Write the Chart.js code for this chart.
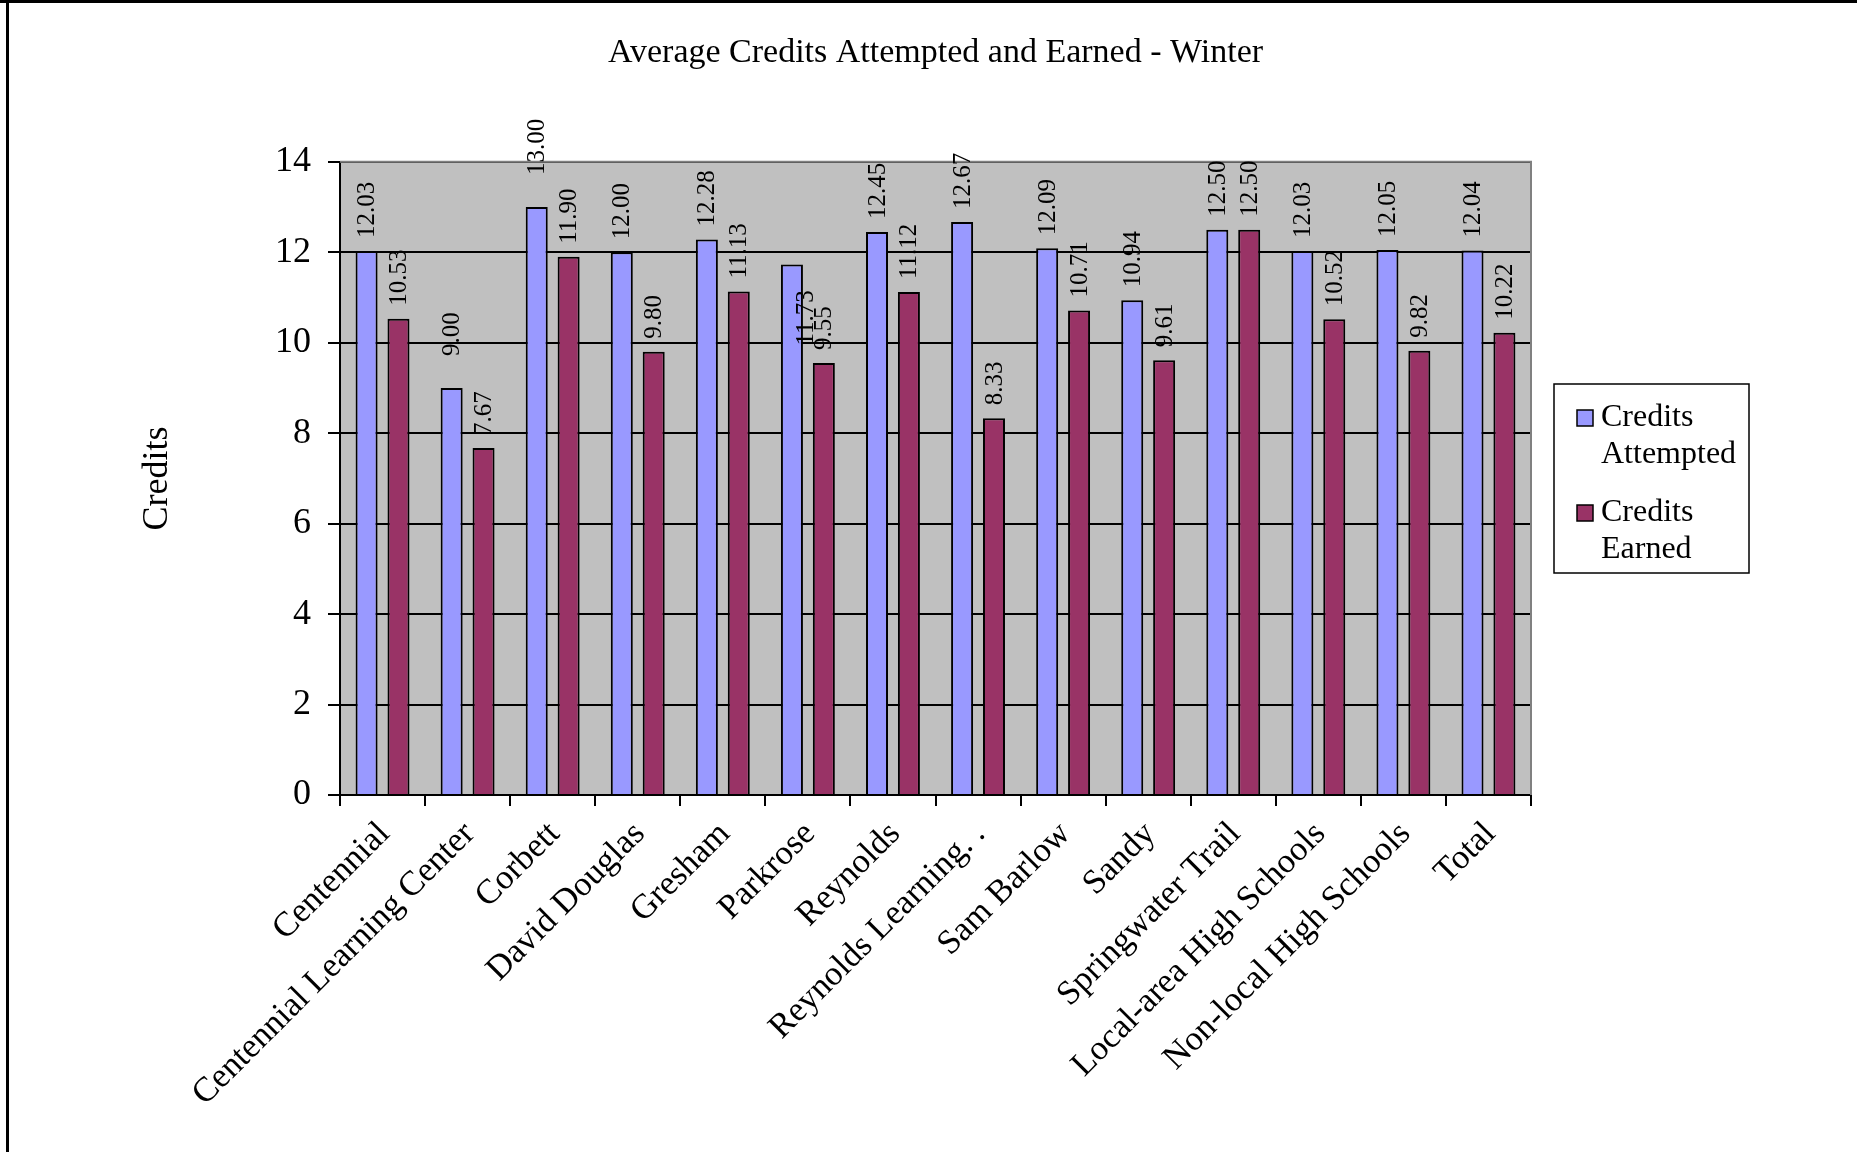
<!DOCTYPE html>
<html>
<head>
<meta charset="utf-8">
<script src="https://cdn.jsdelivr.net/npm/chart.js@4.4.0/dist/chart.umd.min.js"></script>
<style>
  html, body { margin: 0; padding: 0; background: #ffffff; }
  #wrap { width: 1857px; height: 1152px; position: relative; }
</style>
</head>
<body>
<div id="wrap"><canvas id="c" width="1857" height="1152"></canvas></div>
<script>
// ---------- data ----------
const categories = [
  'Centennial', 'Centennial Learning Center', 'Corbett', 'David Douglas', 'Gresham',
  'Parkrose', 'Reynolds', 'Reynolds Learning. .', 'Sam Barlow', 'Sandy',
  'Springwater Trail', 'Local-area High Schools', 'Non-local High Schools', 'Total'
];
const creditsAttempted = [12.03, 9.00, 13.00, 12.00, 12.28, 11.73, 12.45, 12.67, 12.09, 10.94, 12.50, 12.03, 12.05, 12.04];
const creditsEarned    = [10.53, 7.67, 11.90, 9.80, 11.13, 9.55, 11.12, 8.33, 10.71, 9.61, 12.50, 10.52, 9.82, 10.22];
const seriesNames = ['Credits Attempted', 'Credits Earned'];
const yTickValues = [0, 2, 4, 6, 8, 10, 12, 14];
const chartTitle = 'Average Credits Attempted and Earned - Winter';
const yAxisTitle = 'Credits';

// ---------- styling ----------
const FONT = "'Liberation Serif', 'Times New Roman', serif";
const COLORS = ['#9999FF', '#993366'];

// label nudges seen in the original rendering (dataset-index : [dx, dy])
const labelNudge = { '0-1': [0, -19], '0-2': [0, -19], '0-5': [13, 94] };

const backgroundPlugin = {
  id: 'bg',
  beforeDraw(chart) {
    const { ctx, chartArea: a } = chart;
    ctx.save();
    ctx.fillStyle = '#ffffff';
    ctx.fillRect(0, 0, chart.width, chart.height);
    ctx.fillStyle = '#C0C0C0';
    ctx.fillRect(a.left, a.top, a.right - a.left, a.bottom - a.top);
    // outer frame (top and left edges visible)
    ctx.strokeStyle = '#000000';
    ctx.lineWidth = 3;
    ctx.beginPath();
    ctx.moveTo(0, 1.5); ctx.lineTo(chart.width, 1.5);
    ctx.moveTo(7.5, 0); ctx.lineTo(7.5, chart.height);
    ctx.stroke();
    ctx.restore();
  },
  beforeDatasetsDraw(chart) {
    const { ctx, chartArea: a } = chart;
    ctx.save();
    ctx.strokeStyle = '#808080';
    ctx.lineWidth = 2;
    ctx.beginPath();
    ctx.moveTo(a.left, a.top); ctx.lineTo(a.right, a.top); ctx.lineTo(a.right, a.bottom);
    ctx.stroke();
    ctx.restore();
  }
};

const valueLabelPlugin = {
  id: 'valueLabels',
  afterDatasetsDraw(chart) {
    const { ctx } = chart;
    ctx.save();
    ctx.font = '25px ' + FONT;
    ctx.fillStyle = '#000000';
    ctx.textAlign = 'left';
    ctx.textBaseline = 'middle';
    chart.data.datasets.forEach((ds, di) => {
      const meta = chart.getDatasetMeta(di);
      meta.data.forEach((bar, i) => {
        const nudge = labelNudge[di + '-' + i] || [0, 0];
        const x = bar.x + nudge[0];
        const y = bar.y - 13 + nudge[1];
        ctx.save();
        ctx.translate(x, y);
        ctx.rotate(-Math.PI / 2);
        ctx.fillText(Number(ds.data[i]).toFixed(2), 0, 1);
        ctx.restore();
      });
    });
    ctx.restore();
  }
};

const legendPlugin = {
  id: 'boxLegend',
  afterDraw(chart) {
    const { ctx } = chart;
    const bx = 1554, by = 384, bw = 195, bh = 189;
    ctx.save();
    ctx.fillStyle = '#ffffff';
    ctx.fillRect(bx, by, bw, bh);
    ctx.strokeStyle = '#000000';
    ctx.lineWidth = 1.5;
    ctx.strokeRect(bx, by, bw, bh);
    ctx.font = '32px ' + FONT;
    ctx.textAlign = 'left';
    ctx.textBaseline = 'middle';
    const lineH = 37;
    let y = by + 34;
    chart.data.datasets.forEach((ds) => {
      ctx.fillStyle = ds.backgroundColor;
      ctx.fillRect(bx + 23, y - 8, 16, 16);
      ctx.strokeStyle = '#000000';
      ctx.lineWidth = 1.5;
      ctx.strokeRect(bx + 23, y - 8, 16, 16);
      ctx.fillStyle = '#000000';
      const words = ds.label.split(' ');
      words.forEach((w, k) => ctx.fillText(w, bx + 47, y + k * lineH));
      y += 95;
    });
    ctx.restore();
  }
};

new Chart(document.getElementById('c'), {
  type: 'bar',
  data: {
    labels: categories,
    datasets: [
      { label: seriesNames[0], data: creditsAttempted, backgroundColor: COLORS[0], borderColor: '#000000', borderWidth: 2, borderSkipped: 'bottom' },
      { label: seriesNames[1], data: creditsEarned, backgroundColor: COLORS[1], borderColor: '#000000', borderWidth: 2, borderSkipped: 'bottom' }
    ]
  },
  options: {
    responsive: false,
    animation: false,
    devicePixelRatio: 1,
    categoryPercentage: 0.75,
    barPercentage: 0.69,
    layout: { padding: { left: 0, right: 326, top: 0, bottom: 0 } },
    plugins: {
      legend: { display: false },
      tooltip: { enabled: false },
      title: {
        display: true,
        fullSize: false,
        text: chartTitle,
        color: '#000000',
        font: { family: FONT, size: 34, weight: 'normal' },
        padding: { top: 33, bottom: 88 }
      }
    },
    scales: {
      x: {
        offset: true,
        grid: { display: true, drawOnChartArea: false, drawTicks: true, tickLength: 11, color: '#000000', lineWidth: 2, offset: true },
        border: { display: true, color: '#000000', width: 2 },
        ticks: {
          color: '#000000',
          font: { family: FONT, size: 34.5 },
          maxRotation: 45, minRotation: 45,
          autoSkip: false,
          padding: 8,
          labelOffset: 2
        },
        afterFit(axis) { axis.height = 357; }
      },
      y: {
        min: 0, max: 14,
        afterBuildTicks(axis) { axis.ticks = yTickValues.map(v => ({ value: v })); },
        grid: { color: '#000000', lineWidth: 2, drawTicks: true, tickLength: 12 },
        border: { display: true, color: '#000000', width: 2 },
        ticks: { color: '#000000', font: { family: FONT, size: 36 }, padding: 17 },
        title: {
          display: true, text: yAxisTitle, color: '#000000',
          font: { family: FONT, size: 36 },
          padding: { top: 136, bottom: 0 }
        },
        afterFit(axis) { axis.width = 340; }
      }
    }
  },
  plugins: [backgroundPlugin, valueLabelPlugin, legendPlugin]
});
</script>
</body>
</html>
